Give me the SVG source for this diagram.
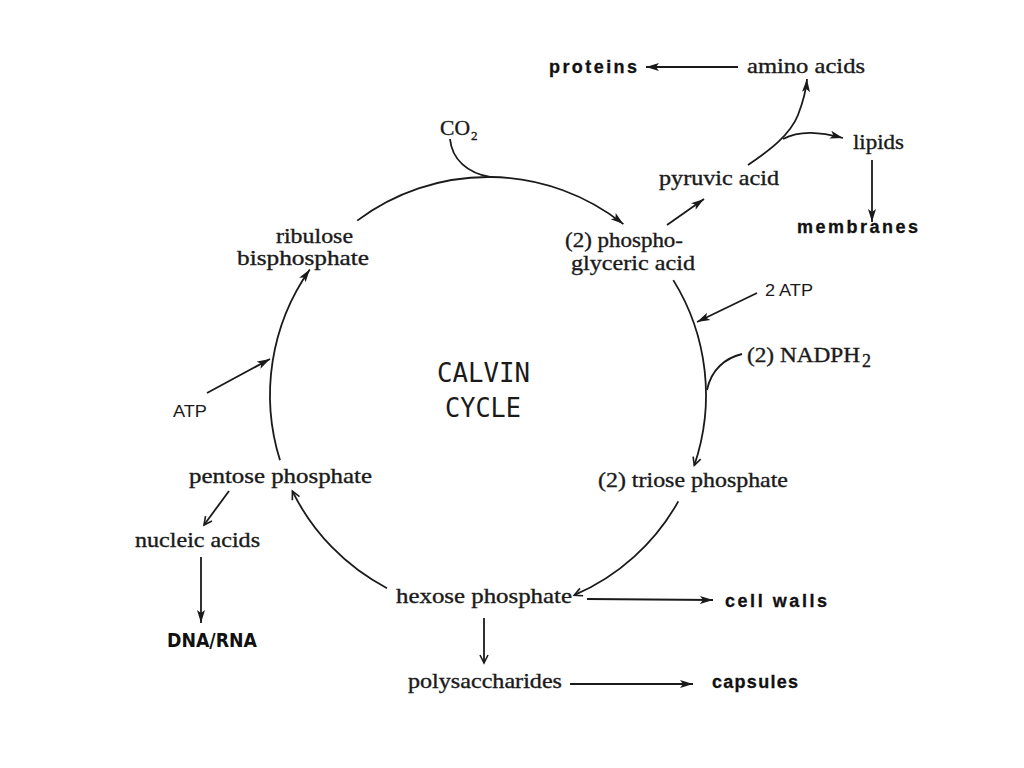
<svg xmlns="http://www.w3.org/2000/svg" width="1024" height="768" viewBox="0 0 1024 768">
<style>
.s{font-family:"Liberation Serif","Times New Roman",serif;font-size:21px;fill:#1a1a1a;stroke:#1a1a1a;stroke-width:0.35}
.b{font-family:"Liberation Sans",Arial,sans-serif;font-size:18px;font-weight:bold;fill:#111111;stroke:#111111;stroke-width:0.3}
.a{font-family:"Liberation Sans",Arial,sans-serif;font-size:17px;fill:#1a1a1a}
.m{font-family:"DejaVu Sans Mono",monospace;font-size:26px;fill:#1a1a1a}
.d{font-family:"DejaVu Sans","Liberation Sans",sans-serif;font-size:20px;font-weight:bold;fill:#111111}
.c{fill:none;stroke:#1a1a1a;stroke-width:1.8}
</style>
<defs>
<marker id="f" markerUnits="userSpaceOnUse" markerWidth="15" markerHeight="10" refX="13" refY="5" orient="auto">
<path d="M0,1 L13,5 L0,9 L3,5 Z" fill="#1a1a1a"/>
</marker>
<marker id="v" markerUnits="userSpaceOnUse" markerWidth="12" markerHeight="10" refX="9" refY="5" orient="auto">
<path d="M1,1 L9,5 L1,9" fill="none" stroke="#1a1a1a" stroke-width="1.6"/>
</marker>
</defs>
<rect width="1024" height="768" fill="#ffffff"/>
<g id="connectors">
<path class="c" d="M450,139 C452,160 468,173 490,177"/>
<path class="c" d="M357.2,220.6 A218,218 0 0 1 623.4,224.1" marker-end="url(#f)"/>
<path class="c" d="M673.3,280.1 A218,218 0 0 1 694.3,465.4" marker-end="url(#v)"/>
<path class="c" d="M678.3,501.4 A218,218 0 0 1 574.2,595.2" marker-end="url(#v)"/>
<path class="c" d="M387,588.2 A218,218 0 0 1 292.4,491.2" marker-end="url(#v)"/>
<path class="c" d="M280,460.2 A218,218 0 0 1 309.8,269.4" marker-end="url(#f)"/>
<path class="c" d="M207,393 L270,359" marker-end="url(#f)"/>
<path class="c" d="M757,293 L697,322" marker-end="url(#f)"/>
<path class="c" d="M742,354 C725,358 711,370 707,390"/>
<path class="c" d="M667,225 L704,199" marker-end="url(#f)"/>
<path class="c" d="M748,165 C770,150 790,135 798,115 C803,102 806,92 807,79" marker-end="url(#f)"/>
<path class="c" d="M783,139 C800,130 820,132 843,138" marker-end="url(#f)"/>
<path class="c" d="M738,67 L646,67" marker-end="url(#f)"/>
<path class="c" d="M872,160 L872,222" marker-end="url(#f)"/>
<path class="c" d="M229,491 L204,525" marker-end="url(#v)"/>
<path class="c" d="M201,557 L201,623" marker-end="url(#f)"/>
<path class="c" d="M587,599 L713,600" marker-end="url(#f)"/>
<path class="c" d="M484,618 L484,663" marker-end="url(#v)"/>
<path class="c" d="M570,684 L693,684" marker-end="url(#f)"/>
</g>
<g id="calvin-cycle">
<text class="m" x="437" y="382" textLength="93" lengthAdjust="spacingAndGlyphs">CALVIN</text>
<text class="m" x="445" y="417" textLength="76" lengthAdjust="spacingAndGlyphs">CYCLE</text>
</g>
<g id="co2"><text class="s" x="440" y="135" textLength="30" lengthAdjust="spacingAndGlyphs">CO</text><text class="s" x="471" y="140" style="font-size:13px">2</text></g>
<g id="ribulose-bisphosphate">
<text class="s" x="276" y="243" textLength="77" lengthAdjust="spacingAndGlyphs">ribulose</text>
<text class="s" x="237" y="265" textLength="132" lengthAdjust="spacingAndGlyphs">bisphosphate</text>
</g>
<g id="phosphoglyceric-acid">
<text class="s" x="565" y="247" textLength="118" lengthAdjust="spacingAndGlyphs">(2) phospho-</text>
<text class="s" x="571" y="270" textLength="124" lengthAdjust="spacingAndGlyphs">glyceric acid</text>
</g>
<g id="pyruvic-acid"><text class="s" x="659" y="185" textLength="120" lengthAdjust="spacingAndGlyphs">pyruvic acid</text></g>
<g id="amino-acids"><text class="s" x="747" y="73" textLength="118" lengthAdjust="spacingAndGlyphs">amino acids</text></g>
<g id="proteins"><text class="b" x="549" y="73" textLength="88" lengthAdjust="spacing">proteins</text></g>
<g id="lipids"><text class="s" x="853" y="149" textLength="51" lengthAdjust="spacingAndGlyphs">lipids</text></g>
<g id="membranes"><text class="b" x="797" y="233" textLength="121" lengthAdjust="spacing">membranes</text></g>
<g id="atp2"><text class="a" x="765" y="296" textLength="48" lengthAdjust="spacingAndGlyphs" style="font-size:16px">2 ATP</text></g>
<g id="nadph2"><text class="s" x="747" y="362" textLength="113" lengthAdjust="spacingAndGlyphs">(2) NADPH</text><text class="s" x="862" y="367" style="font-size:18px">2</text></g>
<g id="triose-phosphate"><text class="s" x="598" y="487" textLength="190" lengthAdjust="spacingAndGlyphs">(2) triose phosphate</text></g>
<g id="hexose-phosphate"><text class="s" x="396" y="603" textLength="176" lengthAdjust="spacingAndGlyphs">hexose phosphate</text></g>
<g id="cell-walls"><text class="b" x="725" y="607" textLength="102" lengthAdjust="spacing">cell walls</text></g>
<g id="polysaccharides"><text class="s" x="408" y="688" textLength="154" lengthAdjust="spacingAndGlyphs">polysaccharides</text></g>
<g id="capsules"><text class="b" x="712" y="688" textLength="86" lengthAdjust="spacing">capsules</text></g>
<g id="pentose-phosphate"><text class="s" x="189" y="483" textLength="183" lengthAdjust="spacingAndGlyphs">pentose phosphate</text></g>
<g id="atp"><text class="a" x="173" y="417" textLength="34" lengthAdjust="spacingAndGlyphs">ATP</text></g>
<g id="nucleic-acids"><text class="s" x="135" y="547" textLength="125" lengthAdjust="spacingAndGlyphs">nucleic acids</text></g>
<g id="dna-rna"><text class="d" x="167" y="647" textLength="90" lengthAdjust="spacingAndGlyphs">DNA/RNA</text></g>
</svg>
